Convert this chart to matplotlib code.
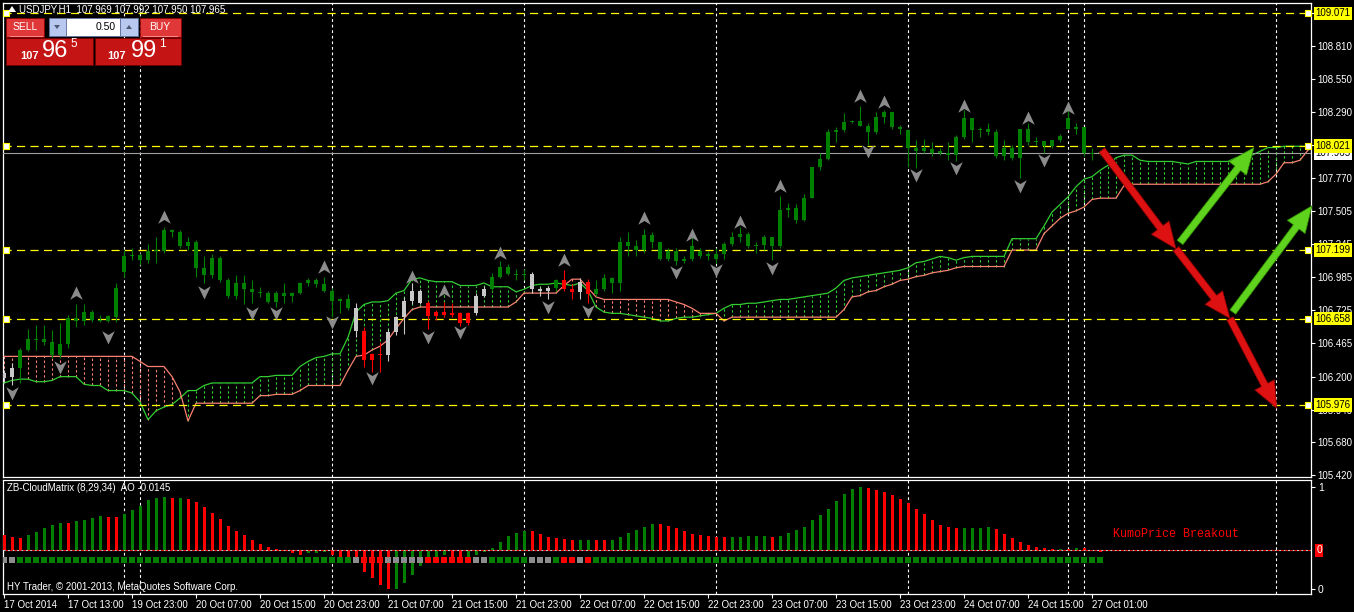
import numpy as np
import matplotlib.pyplot as plt
import matplotlib.transforms as mtransforms
from matplotlib.path import Path
from matplotlib.patches import Rectangle, Polygon

plt.rcParams['font.family'] = ['Liberation Sans', 'DejaVu Sans']

# USDJPY H1, bar 0 = 17 Oct 2014 05:00
opens = [106.19, 106.20, 106.27, 106.41, 106.50, 106.47, 106.47, 106.37, 106.46, 106.66,
         106.64, 106.71, 106.65, 106.64, 106.67, 107.03, 107.15, 107.16, 107.12, 107.19,
         107.19, 107.36, 107.34, 107.23, 107.26, 107.06, 107.00, 107.14, 106.96, 106.84,
         106.94, 106.89, 106.87, 106.86, 106.79, 106.86, 106.84, 106.86, 106.94, 106.96,
         106.93, 106.88, 106.80, 106.81, 106.74, 106.56, 106.33, 106.38, 106.37, 106.55,
         106.67, 106.80, 106.88, 106.78, 106.68, 106.71, 106.69, 106.70, 106.62, 106.70,
         106.84, 106.89, 106.99, 107.07, 107.01, 107.00, 107.01, 106.89, 106.88, 106.90,
         106.96, 106.89, 106.87, 106.95, 106.85, 106.89, 106.98, 106.94, 107.26, 107.23,
         107.20, 107.32, 107.26, 107.13, 107.19, 107.11, 107.13, 107.19, 107.15, 107.17,
         107.17, 107.25, 107.30, 107.33, 107.23, 107.24, 107.30, 107.23, 107.52, 107.53,
         107.44, 107.61, 107.86, 107.92, 108.13, 108.15, 108.21, 108.22, 108.18, 108.13,
         108.25, 108.29, 108.17, 108.15, 108.01, 107.98, 108.00, 107.97, 107.97, 107.95,
         108.09, 108.24, 108.15, 108.16, 108.13, 107.94, 108.01, 107.93, 108.16, 108.05,
         108.06, 108.02, 108.07, 108.16, 108.16, 108.17, 107.97, 107.969]
highs = [106.25, 106.31, 106.43, 106.58, 106.61, 106.61, 106.57, 106.62, 106.69, 106.77,
         106.77, 106.73, 106.69, 106.69, 106.94, 107.20, 107.22, 107.18, 107.25, 107.30,
         107.38, 107.37, 107.36, 107.30, 107.28, 107.15, 107.17, 107.15, 106.98, 107.00,
         107.00, 106.96, 106.91, 106.88, 106.88, 106.94, 106.87, 106.95, 106.98, 106.98,
         106.99, 106.90, 106.82, 106.85, 106.78, 106.59, 106.39, 106.47, 106.58, 106.68,
         106.83, 106.94, 106.89, 106.80, 106.73, 106.79, 106.78, 106.71, 106.71, 106.86,
         106.92, 107.02, 107.11, 107.09, 107.05, 107.05, 107.03, 106.91, 106.92, 106.97,
         107.04, 106.93, 106.98, 106.97, 106.96, 107.01, 106.99, 107.30, 107.34, 107.28,
         107.37, 107.34, 107.26, 107.22, 107.22, 107.15, 107.30, 107.22, 107.19, 107.22,
         107.26, 107.34, 107.38, 107.34, 107.26, 107.32, 107.30, 107.63, 107.57, 107.56,
         107.64, 107.86, 107.97, 108.16, 108.17, 108.28, 108.23, 108.34, 108.20, 108.29,
         108.31, 108.29, 108.19, 108.16, 108.07, 108.08, 108.05, 108.01, 108.05, 108.11,
         108.31, 108.24, 108.17, 108.20, 108.16, 108.07, 108.03, 108.16, 108.20, 108.09,
         108.06, 108.07, 108.12, 108.31, 108.20, 108.17, 108.01, 107.992]
lows = [106.16, 106.13, 106.15, 106.40, 106.41, 106.45, 106.35, 106.35, 106.43, 106.59,
        106.61, 106.63, 106.63, 106.63, 106.63, 106.99, 107.12, 107.08, 107.10, 107.10,
        107.18, 107.30, 107.22, 107.20, 106.99, 106.94, 106.98, 106.95, 106.82, 106.81,
        106.77, 106.78, 106.83, 106.78, 106.75, 106.78, 106.79, 106.85, 106.92, 106.91,
        106.87, 106.67, 106.70, 106.73, 106.51, 106.28, 106.24, 106.24, 106.32, 106.53,
        106.54, 106.77, 106.77, 106.58, 106.65, 106.67, 106.67, 106.60, 106.61, 106.69,
        106.83, 106.88, 106.98, 107.00, 106.96, 106.96, 106.86, 106.84, 106.81, 106.88,
        106.88, 106.81, 106.81, 106.78, 106.84, 106.88, 106.86, 106.88, 107.15, 107.15,
        107.18, 107.22, 107.12, 107.11, 107.08, 107.10, 107.11, 107.14, 107.12, 107.10,
        107.13, 107.23, 107.26, 107.22, 107.18, 107.20, 107.12, 107.22, 107.46, 107.41,
        107.43, 107.61, 107.83, 107.91, 108.05, 108.13, 108.20, 108.18, 108.03, 108.12,
        108.20, 108.16, 108.12, 107.86, 107.85, 107.97, 107.94, 107.95, 107.91, 107.90,
        108.08, 108.05, 108.09, 108.11, 107.93, 107.91, 107.91, 107.77, 108.03, 108.03,
        107.97, 108.01, 108.05, 108.16, 108.12, 107.94, 107.91, 107.950]
closes = [106.23, 106.27, 106.41, 106.50, 106.49, 106.50, 106.37, 106.46, 106.66, 106.64,
          106.71, 106.65, 106.64, 106.68, 106.90, 107.15, 107.16, 107.12, 107.19, 107.20,
          107.36, 107.34, 107.23, 107.26, 107.06, 107.00, 107.14, 106.96, 106.84, 106.94,
          106.89, 106.87, 106.86, 106.79, 106.86, 106.84, 106.86, 106.94, 106.96, 106.93,
          106.88, 106.80, 106.81, 106.74, 106.56, 106.33, 106.38, 106.37, 106.55, 106.67,
          106.80, 106.88, 106.78, 106.68, 106.71, 106.69, 106.70, 106.62, 106.70, 106.84,
          106.89, 106.99, 107.07, 107.01, 107.00, 107.01, 106.89, 106.88, 106.90, 106.96,
          106.89, 106.87, 106.95, 106.85, 106.89, 106.98, 106.94, 107.26, 107.23, 107.20,
          107.32, 107.26, 107.13, 107.19, 107.11, 107.13, 107.23, 107.15, 107.17, 107.13,
          107.25, 107.30, 107.33, 107.23, 107.24, 107.30, 107.23, 107.52, 107.53, 107.44,
          107.61, 107.86, 107.92, 108.13, 108.15, 108.21, 108.22, 108.18, 108.13, 108.25,
          108.29, 108.17, 108.16, 108.01, 107.98, 108.01, 107.97, 107.98, 107.95, 108.09,
          108.24, 108.15, 108.16, 108.13, 107.94, 108.01, 107.93, 108.16, 108.05, 108.06,
          108.02, 108.07, 108.10, 108.24, 108.17, 107.97, 107.96, 107.965]
# w = inside cloud, g = above, r = below (CloudMatrix candle colouring)
candle_cols = ("wwgggggggg" "gggggggggg" "gggggggggg" "gggggggggg" "ggggwrrrww"
               "wwwrrrrrrw" "wgggggwwwg" "rrwrgggggg" "gggggggggg" "gggggggggg"
               "gggggggggg" "gggggggggg" "gggggggggg" "gggggggg")

# Ichimoku Senkou spans (shifted 26 bars ahead)
span_a = [106.15, 106.17, 106.18, 106.18, 106.16, 106.16, 106.17, 106.20, 106.20, 106.20,
          106.14, 106.13, 106.13, 106.09, 106.09, 106.09, 106.07, 106.00, 105.86, 105.93,
          105.96, 105.98, 106.03, 106.09, 106.09, 106.13, 106.15, 106.15, 106.15, 106.15,
          106.15, 106.15, 106.20, 106.20, 106.21, 106.21, 106.21, 106.28, 106.32, 106.35,
          106.36, 106.38, 106.38, 106.51, 106.71, 106.77, 106.79, 106.79, 106.80, 106.86,
          106.88, 106.97, 106.98, 106.96, 106.95, 106.95, 106.95, 106.92, 106.92, 106.92,
          106.94, 106.91, 106.91, 106.91, 106.87, 106.89, 106.92, 106.93, 106.93, 106.94,
          106.93, 106.92, 106.94, 106.88, 106.75, 106.71, 106.70, 106.70, 106.69, 106.68,
          106.67, 106.66, 106.64, 106.64, 106.66, 106.67, 106.67, 106.68, 106.69, 106.70,
          106.74, 106.77, 106.77, 106.78, 106.78, 106.79, 106.80, 106.81, 106.81, 106.82,
          106.83, 106.84, 106.85, 106.86, 106.90, 106.96, 106.98, 106.99, 107.00, 107.01,
          107.02, 107.03, 107.04, 107.06, 107.10, 107.11, 107.13, 107.15, 107.14, 107.12,
          107.14, 107.15, 107.15, 107.15, 107.15, 107.15, 107.29, 107.29, 107.29, 107.29,
          107.39, 107.50, 107.56, 107.62, 107.70, 107.76, 107.78, 107.83, 107.87, 107.93,
          107.95, 107.95, 107.91, 107.90, 107.90, 107.90, 107.90, 107.89, 107.88, 107.90,
          107.90, 107.90, 107.90, 107.90, 107.93, 107.94, 107.95, 107.98, 108.01, 108.01,
          108.02, 108.02, 108.02, 108.02]
span_b = [106.36, 106.36, 106.36, 106.36, 106.36, 106.36, 106.36, 106.36, 106.36, 106.36,
          106.36, 106.36, 106.36, 106.36, 106.36, 106.36, 106.36, 106.32, 106.28, 106.28,
          106.28, 106.20, 106.08, 105.85, 105.99, 105.99, 105.99, 105.99, 105.99, 105.99,
          105.99, 105.99, 106.05, 106.05, 106.06, 106.06, 106.06, 106.09, 106.13, 106.13,
          106.13, 106.13, 106.13, 106.25, 106.36, 106.37, 106.41, 106.44, 106.49, 106.58,
          106.66, 106.73, 106.75, 106.75, 106.75, 106.75, 106.75, 106.75, 106.75, 106.75,
          106.75, 106.75, 106.75, 106.75, 106.79, 106.86, 106.86, 106.86, 106.86, 106.86,
          106.92, 106.97, 106.97, 106.90, 106.83, 106.81, 106.81, 106.81, 106.81, 106.81,
          106.81, 106.81, 106.81, 106.81, 106.79, 106.77, 106.74, 106.70, 106.70, 106.70,
          106.64, 106.67, 106.67, 106.67, 106.67, 106.67, 106.67, 106.67, 106.67, 106.67,
          106.67, 106.67, 106.67, 106.67, 106.67, 106.73, 106.83, 106.84, 106.87, 106.88,
          106.91, 106.93, 106.96, 106.97, 106.99, 107.00, 107.02, 107.03, 107.04, 107.06,
          107.07, 107.07, 107.07, 107.07, 107.07, 107.07, 107.20, 107.20, 107.20, 107.20,
          107.33, 107.39, 107.45, 107.49, 107.51, 107.54, 107.60, 107.61, 107.61, 107.61,
          107.71, 107.72, 107.72, 107.72, 107.72, 107.72, 107.72, 107.72, 107.72, 107.72,
          107.72, 107.72, 107.72, 107.72, 107.72, 107.72, 107.72, 107.72, 107.74, 107.80,
          107.89, 107.89, 107.91, 107.99]

# fractals
up_bars = [9, 20, 40, 51, 55, 62, 70, 80, 86, 92, 97, 107, 110, 120, 128, 133]
up_price = [106.86, 107.46, 107.07, 106.99, 106.88, 107.18, 107.12, 107.45, 107.32, 107.42,
            107.71, 108.42, 108.37, 108.34, 108.24, 108.32]
down_bars = [1, 7, 13, 25, 31, 34, 41, 46, 53, 57, 68, 73, 84, 89, 96, 108, 114, 119, 127, 130]
down_price = [106.07, 106.28, 106.51, 106.87, 106.70, 106.70, 106.63, 106.19, 106.51, 106.55,
              106.75, 106.72, 107.03, 107.04, 107.06, 107.98, 107.79, 107.85, 107.71, 107.91]

# Awesome oscillator
ao = [0.184, 0.160, 0.148, 0.184, 0.224, 0.268, 0.304, 0.328, 0.326, 0.352,
      0.368, 0.388, 0.412, 0.400, 0.398, 0.440, 0.484, 0.536, 0.604, 0.628,
      0.640, 0.628, 0.630, 0.612, 0.580, 0.520, 0.444, 0.376, 0.292, 0.228,
      0.180, 0.120, 0.076, 0.040, 0.012, -0.008, -0.036, -0.052, -0.036, -0.032,
      -0.024, -0.052, -0.084, -0.116, -0.156, -0.256, -0.328, -0.416, -0.460, -0.458,
      -0.396, -0.296, -0.184, -0.128, -0.096, -0.060, -0.084, -0.086, -0.084, -0.060,
      -0.024, 0.028, 0.104, 0.172, 0.212, 0.232, 0.230, 0.200, 0.160, 0.148,
      0.136, 0.124, 0.126, 0.128, 0.124, 0.122, 0.126, 0.160, 0.208, 0.244,
      0.280, 0.316, 0.314, 0.292, 0.268, 0.232, 0.196, 0.184, 0.172, 0.160,
      0.158, 0.160, 0.162, 0.172, 0.173, 0.174, 0.160, 0.172, 0.212, 0.244,
      0.280, 0.364, 0.424, 0.496, 0.592, 0.676, 0.736, 0.760, 0.748, 0.724,
      0.702, 0.668, 0.616, 0.568, 0.496, 0.440, 0.364, 0.304, 0.280, 0.268,
      0.270, 0.272, 0.273, 0.280, 0.256, 0.196, 0.148, 0.100, 0.064, 0.040,
      0.028, 0.016, 0.018, 0.012, 0.028, 0.026, 0.004, -0.0145]
ao_cols = ("rrrgggggrg" "gggrrggggg" "grgrrrrrrr" "rrrrrrrrgg" "grrrrrrrrg"
           "ggggggrrgg" "ggggggrrrr" "rrggrrgggg" "ggrrrrrrrr" "rgggggrggg"
           "ggggggggrr" "rrrrrrrrrr" "ggggrrrrrr" "rrgrgrrr")

levels = [109.071, 108.021, 107.199, 106.658, 105.976]
bid = 107.965
price_ticks = [105.420, 105.680, 105.940, 106.200, 106.465, 106.725, 106.985, 107.245,
               107.505, 107.770, 108.030, 108.290, 108.550, 108.810, 109.070]
sep_bars = [15, 17, 41, 65, 89, 113, 133, 135, 159]
time_bars = [0, 8, 16, 24, 32, 40, 48, 56, 64, 72, 80, 88, 96, 104, 112, 120, 128, 136]
time_labels = ["17 Oct 2014", "17 Oct 13:00", "19 Oct 23:00", "20 Oct 07:00", "20 Oct 15:00",
               "20 Oct 23:00", "21 Oct 07:00", "21 Oct 15:00", "21 Oct 23:00", "22 Oct 07:00",
               "22 Oct 15:00", "22 Oct 23:00", "23 Oct 07:00", "23 Oct 15:00", "23 Oct 23:00",
               "24 Oct 07:00", "24 Oct 15:00", "27 Oct 01:00"]
# drawn arrows: (bar0, price0, bar1, price1)
red_arrows = [(137.25, 107.99, 146.5, 107.21), (146.5, 107.21, 153.25, 106.66),
              (153.25, 106.66, 159.1, 105.95)]
green_arrows = [(147.0, 107.26, 156.25, 108.01), (153.6, 106.71, 163.5, 107.55)]

W, H = 1354, 612
fig = plt.figure(figsize=(W / 100, H / 100), dpi=100, facecolor='black')


def box(l, t, r, b):
    return [l / W, 1 - b / H, (r - l) / W, (b - t) / H]


ax = fig.add_axes(box(3, 3, 1311, 477))
ax_ind = fig.add_axes(box(3, 480, 1311, 594))
for a in (ax, ax_ind):
    a.set_facecolor('black')
    for s in a.spines.values():
        s.set_color('white')
        s.set_linewidth(0.9)
    a.set_xlim(-0.125, 163.375)

# ---- main chart
n = len(closes)
xs = np.arange(n)
o, hi, lo, c = map(np.array, (opens, highs, lows, closes))
candle_pal = {'g': '#008000', 'r': '#ff0000', 'w': '#c8c8c8'}
ccol = [candle_pal[k] for k in candle_cols]

sa, sb = np.array(span_a), np.array(span_b)
xc = np.arange(len(sa))
hcol = np.where(sa >= sb, '#32cd32', '#fa8072')
ax.vlines(xc, np.minimum(sa, sb), np.maximum(sa, sb), colors=hcol, lw=0.8,
          linestyles=[(0, (2.2, 2.2))], zorder=2)
ax.plot(xc, sa, color='#32cd32', lw=0.9, zorder=3)
ax.plot(xc, sb, color='#fa8072', lw=0.9, zorder=3)

for sx in sep_bars:
    for a in (ax, ax_ind):
        a.axvline(sx, color='white', lw=0.8, ls=(0, (2.5, 2.5)), zorder=1)

for lv in levels:
    ax.axhline(lv, color='yellow', lw=0.9, ls=(0, (6.5, 4.3)), zorder=3)
ax.axhline(bid, color='#a0a0a0', lw=0.8, zorder=3)

ax.vlines(xs, lo, hi, colors=ccol, lw=0.8, zorder=4)
ax.bar(xs, np.maximum(np.abs(c - o), 0.009), bottom=np.minimum(o, c), width=0.62,
       color=ccol, lw=0, zorder=5)

up_arrow = Path([(0, 0.55), (0.5, -0.5), (0, -0.2), (-0.5, -0.5), (0, 0.55)],
                [Path.MOVETO, Path.LINETO, Path.LINETO, Path.LINETO, Path.CLOSEPOLY])
down_arrow = Path([(0, -0.55), (0.5, 0.5), (0, 0.2), (-0.5, 0.5), (0, -0.55)],
                  [Path.MOVETO, Path.LINETO, Path.LINETO, Path.LINETO, Path.CLOSEPOLY])
ax.scatter(up_bars, up_price, marker=up_arrow, s=100, c='#8c8c8c', lw=0, zorder=6)
ax.scatter(down_bars, down_price, marker=down_arrow, s=100, c='#8c8c8c', lw=0, zorder=6)

arrow_style = 'simple,head_length=0.95,head_width=0.8,tail_width=0.26'
for x0, y0, x1, y1 in red_arrows:
    ax.annotate('', xy=(x1, y1), xytext=(x0, y0), annotation_clip=False, zorder=9,
                arrowprops=dict(arrowstyle=arrow_style, fc='#dd1111', ec='#8a0000', lw=0.5,
                                shrinkA=0, shrinkB=0, mutation_scale=20))
for x0, y0, x1, y1 in green_arrows:
    ax.annotate('', xy=(x1, y1), xytext=(x0, y0), annotation_clip=False, zorder=9,
                arrowprops=dict(arrowstyle=arrow_style, fc='#5fd21e', ec='#2f8a00', lw=0.5,
                                shrinkA=0, shrinkB=0, mutation_scale=20))

ax.set_ylim(105.407, 109.152)
ax.set_xticks([])
ax.yaxis.tick_right()
ax.set_yticks(price_ticks)
ax.set_yticklabels([f'{t:.3f}' for t in price_ticks])
ax.tick_params(axis='y', colors='white', labelsize=7, length=3, width=0.8, pad=1.5)

trans = mtransforms.blended_transform_factory(ax.transAxes, ax.transData)
ax.scatter([0.002] * len(levels), levels, transform=trans, marker='s', s=14, fc='white',
           ec='yellow', lw=0.8, zorder=7, clip_on=False)
ax.scatter([0.9975] * len(levels), levels, transform=trans, marker='s', s=14, fc='white',
           ec='yellow', lw=0.8, zorder=7, clip_on=False)
ax.text(1.0035, bid, f'{bid:.3f}', transform=trans, fontsize=7, color='black', va='center',
        ha='left', bbox=dict(boxstyle='square,pad=0.18', fc='white', ec='none'),
        clip_on=False, zorder=8)
for lv in levels:
    ax.text(1.0035, lv, f'{lv:.3f}', transform=trans, fontsize=7, color='black', va='center',
            ha='left', bbox=dict(boxstyle='square,pad=0.18', fc='yellow', ec='none'),
            clip_on=False, zorder=9)

# ---- indicator panel
ao_pal = {'g': '#008000', 'r': '#ff0000'}
sq_pal = {'g': '#008000', 'r': '#ff0000', 'w': '#8c8c8c'}
ax_ind.bar(xs, ao, width=0.375, color=[ao_pal[k] for k in ao_cols], lw=0, zorder=3)
itrans = mtransforms.blended_transform_factory(ax_ind.transData, ax_ind.transAxes)
ax_ind.scatter(xs, [0.298] * n, transform=itrans, marker='s', s=14,
               c=[sq_pal[k] for k in candle_cols], lw=0, zorder=3)
ax_ind.axhline(0, color='#c8c8c8', lw=0.8, ls=(0, (2, 2)), zorder=4)
ax_ind.axhline(0, color='red', lw=0.8, ls=(2, (2, 2)), zorder=4)
ax_ind.set_ylim(-0.524, 0.844)
ax_ind.yaxis.tick_right()
ax_ind.set_yticks([min(ao), max(ao)])
ax_ind.set_yticklabels(['0', '1'])
ax_ind.tick_params(axis='y', colors='white', labelsize=7.5, length=3, width=0.8, pad=2)
ax_ind.set_xticks(time_bars)
ax_ind.set_xticklabels(time_labels, ha='left')
ax_ind.tick_params(axis='x', colors='white', labelsize=7, length=3, width=0.8, pad=1)
ytr = mtransforms.blended_transform_factory(ax_ind.transAxes, ax_ind.transData)
ax_ind.text(1.004, 0, '0', transform=ytr, fontsize=7.5, color='white', va='center', ha='left',
            bbox=dict(boxstyle='square,pad=0.12', fc='red', ec='none'), clip_on=False)

# ---- overlay: header, one-click trading panel, labels (pixel coords)
ui = fig.add_axes([0, 0, 1, 1], zorder=20)
ui.set_xlim(0, W)
ui.set_ylim(H, 0)
ui.axis('off')
ui.patch.set_alpha(0)

ui.add_patch(Polygon([(8, 12), (12, 6), (16, 12)], closed=True, fc='white', ec='none'))
ui.text(19, 9, 'USDJPY,H1  107.969 107.992 107.950 107.965', color='white', fontsize=7,
        va='center', ha='left')

ui.add_patch(Rectangle((6, 18), 38, 19, fc='#e03838', ec='#8b0000', lw=0.6))
ui.plot([10, 42], [36, 36], color='#ff9a9a', lw=0.6)
ui.text(25, 27, 'SELL', color='white', fontsize=7.5, ha='center', va='center')
ui.add_patch(Rectangle((49, 18), 17, 18, fc='#b8c8ee', ec='#6070a0', lw=0.6))
ui.add_patch(Polygon([(54, 25), (60, 25), (57, 29)], closed=True, fc='#505878', ec='none'))
ui.add_patch(Rectangle((66, 18), 54, 18, fc='white', ec='#6070a0', lw=0.6))
ui.text(116, 27, '0.50', color='black', fontsize=7.5, ha='right', va='center')
ui.add_patch(Rectangle((120, 18), 18, 18, fc='#b8c8ee', ec='#6070a0', lw=0.6))
ui.add_patch(Polygon([(126, 29), (132, 29), (129, 25)], closed=True, fc='#505878', ec='none'))
ui.add_patch(Rectangle((140, 18), 41, 19, fc='#e03838', ec='#8b0000', lw=0.6))
ui.plot([143, 177], [36, 36], color='#ff9a9a', lw=0.6)
ui.text(160, 27, 'BUY', color='white', fontsize=7.5, ha='center', va='center')
ui.add_patch(Rectangle((6, 38), 87, 27, fc='#c41414', ec='#700000', lw=0.6))
ui.add_patch(Rectangle((95, 38), 86, 27, fc='#c41414', ec='#700000', lw=0.6))
ui.text(20, 56, '107', color='white', fontsize=8, fontweight='bold', ha='left', va='center')
ui.text(42, 51, '96', color='white', fontsize=17, ha='left', va='center')
ui.text(70, 44, '5', color='white', fontsize=8.5, ha='left', va='center')
ui.text(107, 56, '107', color='white', fontsize=8, fontweight='bold', ha='left', va='center')
ui.text(131, 51, '99', color='white', fontsize=17, ha='left', va='center')
ui.text(159, 44, '1', color='white', fontsize=8.5, ha='left', va='center')

ui.text(7, 488, 'ZB-CloudMatrix (8,29,34)  AO -0.0145', color='white', fontsize=7,
        va='center', ha='left')
ui.text(7, 587, 'HY Trader, \u00a9 2001-2013, MetaQuotes Software Corp.', color='white',
        fontsize=7, va='center', ha='left')
ui.text(1113, 534, 'KumoPrice Breakout', color='red', fontsize=8.5,
        family=['Liberation Mono', 'DejaVu Sans Mono'], va='center', ha='left')

fig.savefig('out.png', dpi=100, facecolor='black')
